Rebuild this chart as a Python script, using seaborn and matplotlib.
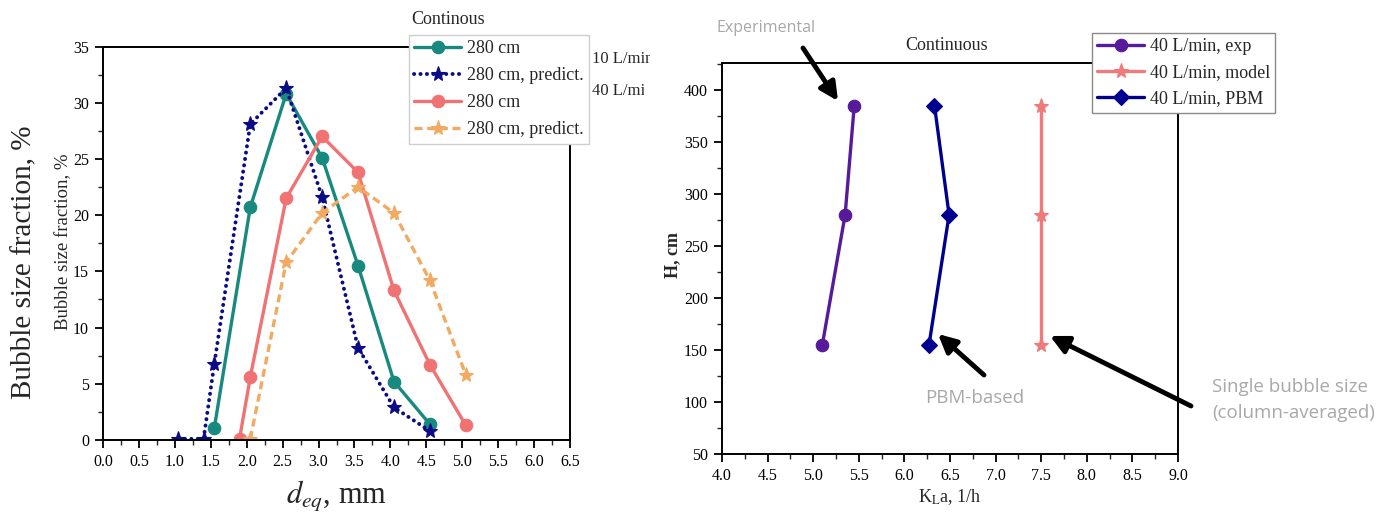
import matplotlib
matplotlib.use("Agg")
import matplotlib.pyplot as plt
import seaborn as sns
from matplotlib.ticker import MultipleLocator
from matplotlib.transforms import Bbox

sns.set_theme(style="ticks")
plt.rcParams["font.family"] = ["Liberation Serif", "DejaVu Serif"]
plt.rcParams["mathtext.fontset"] = "stix"

# ---- Bubble size distribution (left panel) ----
d_exp10 = [1.55, 2.05, 2.55, 3.05, 3.55, 4.05, 4.55]
f_exp10 = [1.1, 20.7, 30.8, 25.1, 15.5, 5.2, 1.4]
d_pred10 = [1.05, 1.4, 1.55, 2.05, 2.55, 3.05, 3.55, 4.05, 4.55]
f_pred10 = [0.1, 0.1, 6.8, 28.1, 31.3, 21.6, 8.2, 2.9, 0.8]
d_exp40 = [1.9, 2.05, 2.55, 3.05, 3.55, 4.05, 4.55, 5.05]
f_exp40 = [0.1, 5.6, 21.5, 27.0, 23.8, 13.3, 6.7, 1.3]
d_pred40 = [2.05, 2.55, 3.05, 3.55, 4.05, 4.55, 5.05]
f_pred40 = [0.1, 15.8, 20.2, 22.5, 20.2, 14.2, 5.8]

# ---- kLa along column height (right panel) ----
h_cm = [385, 280, 155]
kla_exp = [5.45, 5.35, 5.10]
kla_model = [7.50, 7.50, 7.50]
kla_pbm = [6.33, 6.49, 6.27]

W, H = 1391, 520
fig = plt.figure(figsize=(W / 100, H / 100), dpi=100)

def fx(px):
    return px / W

def fy(py):
    return 1 - py / H

axL = fig.add_axes([fx(103), fy(440), fx(570) - fx(103), fy(46.5) - fy(440)])
axR = fig.add_axes([fx(722), fy(454), fx(1178) - fx(722), fy(63) - fy(454)])

teal = "#17897f"
navy = "#0b0b85"
salmon = "#f07272"
orange = "#f2aa62"
purple = "#561a9a"
blue = "#000090"
pink = "#f07a7a"

def draw(ax, x, y, color, ls, marker, ms, label, **kw):
    sns.lineplot(x=x, y=y, ax=ax, color=color, linestyle=ls,
                 lw=kw.pop("lw", 2.4), marker=marker, markersize=ms,
                 markeredgecolor=color, markeredgewidth=0.8, sort=False,
                 estimator=None, label=label, legend=False, **kw)

draw(axL, d_exp10, f_exp10, teal, "-", "o", 9, "280 cm")
draw(axL, d_pred10, f_pred10, navy, (0, (0.05, 1.6)), "*", 11,
     "280 cm, predict.", lw=2.8, dash_capstyle="round")
draw(axL, d_exp40, f_exp40, salmon, "-", "o", 9, "280 cm")
draw(axL, d_pred40, f_pred40, orange, (0, (2.4, 1.4)), "*", 11,
     "280 cm, predict.")

axL.set_xlim(0, 6.5)
axL.set_ylim(0, 35)
axL.xaxis.set_major_locator(MultipleLocator(0.5))
axL.xaxis.set_minor_locator(MultipleLocator(0.25))
axL.yaxis.set_major_locator(MultipleLocator(5))
axL.yaxis.set_minor_locator(MultipleLocator(2.5))
axL.set_xticklabels([f"{v:.1f}" for v in axL.get_xticks()])

draw(axR, kla_exp, h_cm, purple, "-", "o", 9, "40 L/min, exp")
draw(axR, kla_model, h_cm, pink, "-", "*", 11, "40 L/min, model")
draw(axR, kla_pbm, h_cm, blue, "-", "D", 8, "40 L/min, PBM")

axR.set_xlim(4, 9)
axR.set_ylim(50, 426)
axR.xaxis.set_major_locator(MultipleLocator(0.5))
axR.xaxis.set_minor_locator(MultipleLocator(0.25))
axR.yaxis.set_major_locator(MultipleLocator(50))
axR.yaxis.set_minor_locator(MultipleLocator(25))
axR.set_xticklabels([f"{v:.1f}" for v in axR.get_xticks()])

for ax in (axL, axR):
    ax.set_xlabel("")
    ax.set_ylabel("")
    for s in ax.spines.values():
        s.set_visible(True)
        s.set_color("black")
        s.set_linewidth(1.4)
    ax.tick_params(which="major", direction="out", length=6, width=1.3,
                   labelsize=11.5, colors="black", pad=4)
    ax.tick_params(which="minor", direction="out", length=3.5, width=1.0)
    ax.set_facecolor("white")

# axis titles
fig.text(fx(24), fy(262), "Bubble size fraction, %", rotation=90,
         ha="center", va="center", fontsize=21, family=["Liberation Serif"])
fig.text(fx(64), fy(242), "Bubble size fraction, %", rotation=90,
         ha="center", va="center", fontsize=13.5, family=["Liberation Serif"])
fig.text(fx(336), fy(497), r"$d_{eq}$, mm", ha="center", va="center",
         fontsize=22)
fig.text(fx(950), fy(497), r"K$_\mathrm{L}$a, 1/h", ha="center", va="center",
         fontsize=13)
fig.text(fx(673), fy(255), "H, cm", rotation=90, ha="center", va="center",
         fontsize=13, fontweight="bold")

# legends
leg_font = {"family": ["Liberation Serif"], "size": 13}
hL, lL = axL.get_legend_handles_labels()
legL = fig.legend(hL, lL, loc="upper left",
                  bbox_to_anchor=(fx(409), fy(35)), bbox_transform=fig.transFigure,
                  prop=leg_font, frameon=True, fancybox=False, framealpha=1,
                  edgecolor="#cfcfcf", borderaxespad=0, borderpad=0.3,
                  handlelength=2.6, handletextpad=0.3, labelspacing=0.55)
legL.get_frame().set_linewidth(1.0)
fig.text(fx(411), fy(20), "Continous", ha="left", va="center", fontsize=13)

hR, lR = axR.get_legend_handles_labels()
legR = fig.legend(hR, lR, loc="upper left",
                  bbox_to_anchor=(fx(1092), fy(33)), bbox_transform=fig.transFigure,
                  prop=leg_font, frameon=True, fancybox=False, framealpha=1,
                  edgecolor="#8a8a8a", borderaxespad=0, borderpad=0.3,
                  handlelength=2.6, handletextpad=0.3, labelspacing=0.5)
legR.get_frame().set_linewidth(1.0)
fig.text(fx(947), fy(45), "Continuous", ha="center", va="center", fontsize=13)

# flow-rate tags beside the left legend, cut off at the panel edge
for txt, y, edge in (("10 L/min", 59, 650), ("40 L/min", 91, 644)):
    t = fig.text(fx(592), fy(y), txt, ha="left", va="center", fontsize=12)
    t.set_clip_box(Bbox.from_extents(0, 0, edge, H))
    t.set_clip_on(True)

# annotations
gray = "#a8a8a8"
note_font = ["Open Sans", "DejaVu Sans"]
fig.text(fx(717), fy(28), "Experimental", ha="left", va="center",
         fontsize=11.5, color=gray, family=note_font)
fig.text(fx(975), fy(398), "PBM-based", ha="center", va="center",
         fontsize=13.5, color=gray, family=note_font)
fig.text(fx(1212), fy(387), "Single bubble size", ha="left",
         va="center", fontsize=13.5, color=gray, family=note_font)
fig.text(fx(1212), fy(413), "(column-averaged)", ha="left",
         va="center", fontsize=13.5, color=gray, family=note_font)

arrow = dict(arrowstyle="-|>,head_length=0.9,head_width=0.45", lw=3.5,
             color="black", shrinkA=0, shrinkB=0)
for tail, head in (((803, 48), (838, 101)),
                   ((984, 375), (938, 334)),
                   ((1191, 406), (1050, 336))):
    fig.add_artist(plt.Annotation("", xy=(head[0], H - head[1]),
                                  xytext=(tail[0], H - tail[1]),
                                  xycoords="figure pixels",
                                  textcoords="figure pixels",
                                  arrowprops=arrow))

fig.savefig("out.png", dpi=100, facecolor="white")
